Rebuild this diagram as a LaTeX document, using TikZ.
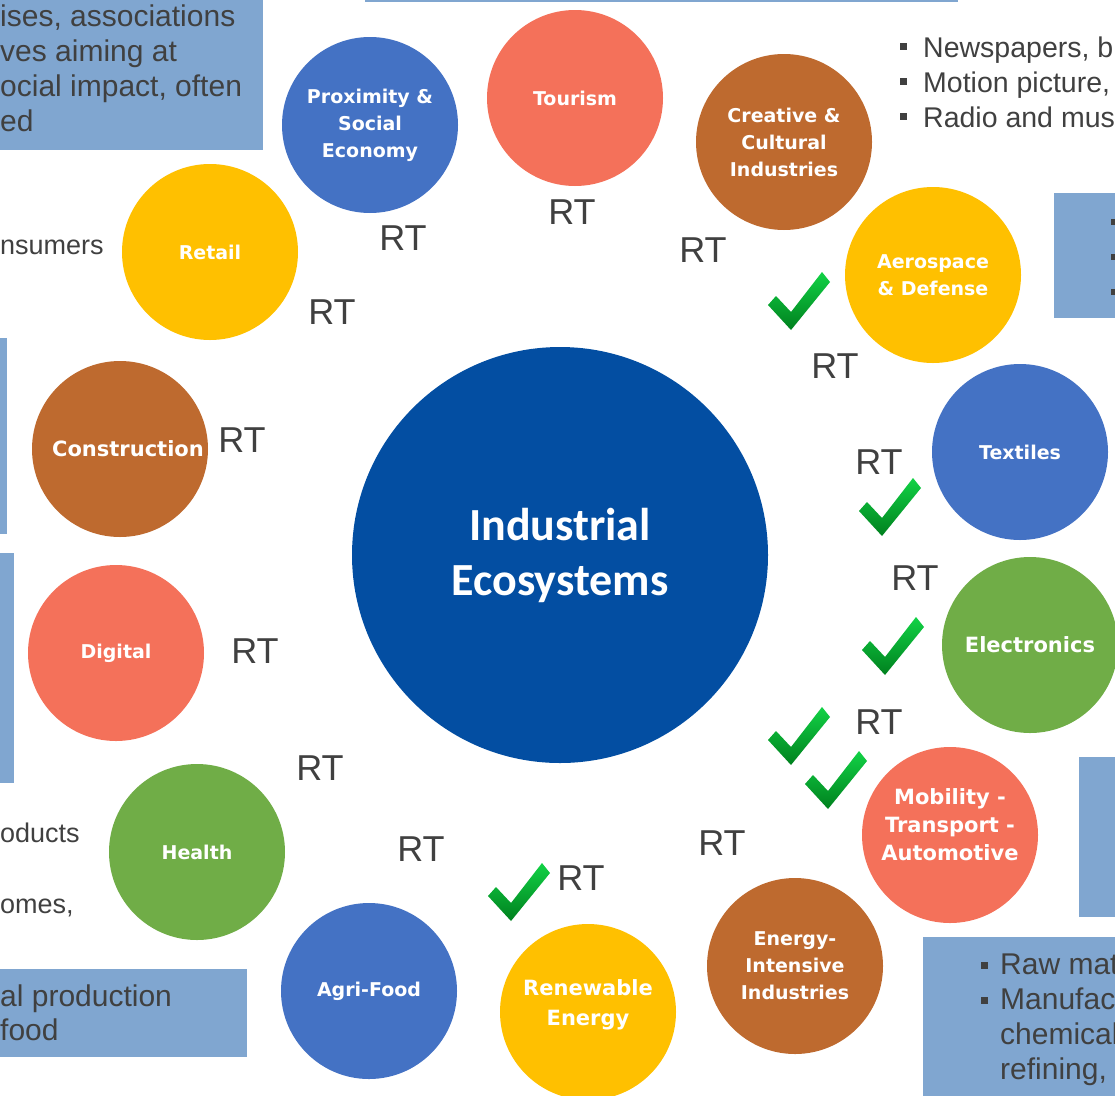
\documentclass[tikz,border=0pt]{standalone}
\usepackage{fontspec}
\setmainfont{Liberation Sans}
\newfontfamily\circfont{DejaVu Sans}
\newfontfamily\corefont{Carlito}
\definecolor{ecoblue}{HTML}{4472C4}
\definecolor{ecored}{HTML}{F4715A}
\definecolor{ecobrown}{HTML}{BE6A2F}
\definecolor{ecogold}{HTML}{FFC000}
\definecolor{ecogreen}{HTML}{70AD47}
\definecolor{coreblue}{HTML}{034EA2}
\definecolor{boxblue}{HTML}{80A6D0}
\definecolor{txtgray}{HTML}{404040}
\definecolor{chkhi}{HTML}{12D246}
\definecolor{chklo}{HTML}{00801E}
\def\tick(#1,#2){\shade[top color=chkhi, bottom color=chklo, shift={(#1,#2)}] (-31,4) -- (-23,-5) -- (-8,11) -- (23,-29) -- (31,-19) -- (-8,29) -- cycle;}
\tikzset{
  eco/.style={circle, minimum size=176pt, inner sep=0pt, align=center, text=white,
    font=\circfont\bfseries\fontsize{19}{27}\selectfont},
  bigeco/.style={eco, font=\circfont\bfseries\fontsize{21}{28}\selectfont},
  core/.style={circle, minimum size=416pt, inner sep=0pt, align=center, text=white, fill=coreblue,
    font=\corefont\bfseries\fontsize{46}{55}\selectfont},
  rtlabel/.style={text=txtgray, inner sep=0pt, font=\fontsize{36}{40}\selectfont},
  sidetext/.style={anchor=base west, inner sep=0pt, text=txtgray, font=\fontsize{27}{35}\selectfont},
  boxtext/.style={sidetext, font=\fontsize{30}{35}\selectfont},
  bullet/.style={fill=txtgray}
}
\begin{document}
\begin{tikzpicture}[x=1pt, y=-1pt]
		%%%%% FRAME %%%%%
		\useasboundingbox (0,0) rectangle (1115,1095);
		\clip (0,0) rectangle (1115,1095);
		
		%%%%% INFO BOXES %%%%%
		\fill[boxblue] (-5,-5) rectangle (263,150);
		\fill[boxblue] (365,-10) rectangle (958,2);
		\fill[boxblue] (1054,193) rectangle (1120,318);
		\fill[boxblue] (-5,338) rectangle (7,534);
		\fill[boxblue] (-5,553) rectangle (14,783);
		\fill[boxblue] (1079,757) rectangle (1120,917);
		\fill[boxblue] (923,937) rectangle (1120,1100);
		\fill[boxblue] (-5,969) rectangle (247,1057);
		
		\node[boxtext] (ta) at (0,26) {ises, associations};
		\node[boxtext] (tb) at (0,61) {ves aiming at};
		\node[boxtext] (tc) at (0,96) {ocial impact, often};
		\node[boxtext] (td) at (0,131) {ed};
		
		\fill[bullet] (900,43) rectangle (907,50);
		\fill[bullet] (900,78) rectangle (907,85);
		\fill[bullet] (900,113) rectangle (907,120);
		\node[sidetext, font=\fontsize{28.5}{35}\selectfont] (ne) at (923,57) {Newspapers, b};
		\node[sidetext, font=\fontsize{28.5}{35}\selectfont] (mo) at (923,92) {Motion picture,};
		\node[sidetext, font=\fontsize{28.5}{35}\selectfont] (ra) at (923,127) {Radio and mus};
		
		\fill[bullet] (1111,219) rectangle (1116,225);
		\fill[bullet] (1111,254) rectangle (1116,260);
		\fill[bullet] (1111,289) rectangle (1116,295);
		
		\node[sidetext] (cs) at (0,254) {nsumers};
		\node[sidetext] (pr) at (0,842) {oducts};
		\node[sidetext] (om) at (0,913) {omes,};
		\node[boxtext] (ap) at (0,1006) {al production};
		\node[boxtext] (fo) at (0,1040) {food};
		
		\fill[bullet] (981,962) rectangle (988,969);
		\fill[bullet] (981,997) rectangle (988,1004);
		\node[boxtext] (rw) at (1000,974) {Raw mat};
		\node[boxtext] (mf) at (1000,1009) {Manufac};
		\node[boxtext] (ch) at (1000,1044) {chemical};
		\node[boxtext] (rf) at (1000,1079) {refining,};
		
		%%%%% ECOSYSTEMS %%%%%
		\node[core] (core) at (560,555) {Industrial\\Ecosystems};
		
		\node[eco, fill=ecored] (tourism) at (575,98) {Tourism};
		\node[eco, fill=ecoblue] (proximity) at (370,125) {Proximity \&\\Social\\Economy};
		\node[eco, fill=ecobrown] (creative) at (784,142) {Creative \&\\Cultural\\Industries};
		\node[eco, fill=ecogold] (retail) at (210,252) {Retail};
		\node[eco, fill=ecogold] (aero) at (933,275) {Aerospace\\\& Defense};
		\node[bigeco, fill=ecobrown] (construction) at (120,449) {\hspace*{16pt}Construction};
		\node[eco, fill=ecoblue] (textiles) at (1020,452) {Textiles};
		\node[eco, fill=ecored] (digital) at (116,653) {Digital};
		\node[bigeco, fill=ecogreen] (electronics) at (1030,645) {Electronics};
		\node[eco, fill=ecogreen] (health) at (197,852) {Health};
		\node[bigeco, fill=ecored] (mobility) at (950,835) {Mobility -\\Transport -\\Automotive\\[-8pt]};
		\node[eco, fill=ecobrown] (energy) at (795,966) {Energy-\\Intensive\\Industries};
		\node[eco, fill=ecoblue] (agrifood) at (369,991) {Agri-Food};
		\node[bigeco, fill=ecogold, font=\circfont\bfseries\fontsize{21}{30}\selectfont] (renewable) at (588,1012) {Renewable\\Energy\\[-12pt]};
		
		%%%%% RT LABELS %%%%%
		\node[rtlabel] (rt1) at (572,212) {RT};
		\node[rtlabel] (rt2) at (403,238) {RT};
		\node[rtlabel] (rt3) at (703,250) {RT};
		\node[rtlabel] (rt4) at (332,312) {RT};
		\node[rtlabel] (rt5) at (835,366) {RT};
		\node[rtlabel] (rt6) at (242,440) {RT};
		\node[rtlabel] (rt7) at (879,462) {RT};
		\node[rtlabel] (rt8) at (915,578) {RT};
		\node[rtlabel] (rt9) at (255,651) {RT};
		\node[rtlabel] (rt10) at (879,722) {RT};
		\node[rtlabel] (rt11) at (320,768) {RT};
		\node[rtlabel] (rt12) at (722,843) {RT};
		\node[rtlabel] (rt13) at (421,849) {RT};
		\node[rtlabel] (rt14) at (581,878) {RT};
		
		%%%%% CHECKS %%%%%
		\tick(799,301)
		\tick(890,507)
		\tick(893,646)
		\tick(799,736)
		\tick(836,780)
		\tick(519,892)
	\end{tikzpicture}
\end{document}
